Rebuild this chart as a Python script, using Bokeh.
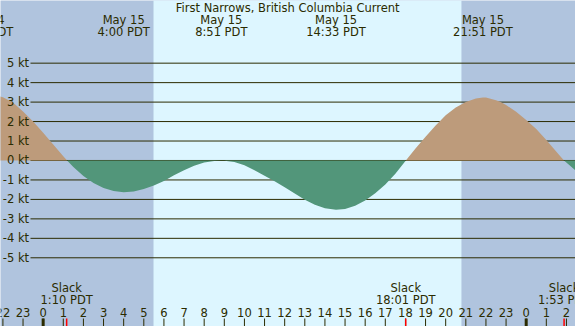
from bokeh.plotting import figure
from bokeh.models import Range1d
from bokeh.embed import file_html
from bokeh.resources import INLINE
from bokeh.core.properties import value

# ---- data (hours relative to May 15 00:00 PDT, current in knots) ----
hours = [-3.0, -2.5, -2.0, -1.5, -1.0, -0.5, 0.0, 0.5, 1.0, 1.19,
         1.5, 2.0, 2.5, 3.0, 3.5, 4.0, 4.5, 5.0, 5.5, 6.0, 6.5, 7.0, 7.5,
         8.0, 8.5, 8.85, 9.0, 9.5, 10.0, 10.5, 11.0, 11.5, 12.0, 12.5, 13.0,
         13.5, 14.0, 14.55, 15.0, 15.5, 16.0, 16.5, 17.0, 17.5, 18.02,
         18.5, 19.0, 19.5, 20.0, 20.5, 21.0, 21.5, 21.85, 22.0, 22.5, 22.73,
         23.0, 23.5, 24.0, 24.5, 25.0, 25.5, 25.88, 26.5]
knots = [3.40, 3.36, 3.25, 2.98, 2.52, 2.00, 1.43, 0.82, 0.22, 0.0,
         -0.33, -0.80, -1.16, -1.42, -1.57, -1.63, -1.59, -1.47, -1.29, -1.05,
         -0.76, -0.50, -0.27, -0.11, -0.03, -0.01, -0.01, -0.08, -0.24, -0.50,
         -0.78, -1.07, -1.38, -1.70, -2.02, -2.28, -2.45, -2.53, -2.49, -2.33,
         -2.05, -1.68, -1.23, -0.68, 0.0, 0.62, 1.22, 1.80, 2.33, 2.72, 3.01,
         3.18, 3.24, 3.24, 3.10, 3.0, 2.85, 2.50, 2.08, 1.62, 1.05, 0.45, 0.0,
         -0.55]

sunrise = [5.483]
sunset = [20.783]

levels = [5, 4, 3, 2, 1, 0, -1, -2, -3, -4, -5]
level_labels = [f"{k} kt" for k in levels]

top_hours = [-2.967, 4.0, 8.85, 14.55, 21.85]
top_dates = ["May 14", "May 15", "May 15", "May 15", "May 15"]
top_times = ["21:02 PDT", "4:00 PDT", "8:51 PDT", "14:33 PDT", "21:51 PDT"]

slack_hours = [1.167, 18.017, 25.883]
slack_times = ["1:10 PDT", "18:01 PDT", "1:53 PDT"]

tick_hours = list(range(-2, 27))
tick_labels = [str(h % 24) for h in tick_hours]
midnights = [0, 24]

title_text = "First Narrows, British Columbia Current"

# ---- styling ----
NIGHT = "#B0C4DE"
DAY = "#DDF6FF"
FLOOD = "#BD9B7B"
EBB = "#52967A"
FG = "#2B2B00"
FONT = value("DejaVu Sans")
FS = "11.5px"

X0, X1 = -2.12, 26.45
Y0, Y1 = -8.53, 8.22

p = figure(width=575, height=326, x_range=Range1d(X0, X1), y_range=Range1d(Y0, Y1),
           output_backend="svg", toolbar_location=None,
           min_border=0, min_border_left=0, min_border_right=0,
           min_border_top=0, min_border_bottom=0)
p.xaxis.visible = False
p.yaxis.visible = False
p.grid.visible = False
p.outline_line_color = None
p.background_fill_color = NIGHT
p.border_fill_color = NIGHT

# daylight band
p.quad(left=sunrise, right=sunset, bottom=Y0 - 1, top=Y1 + 1,
       fill_color=DAY, line_color=None)

# level lines
p.segment(x0=[-0.63] * len(levels), x1=[X1 + 1] * len(levels), y0=levels, y1=levels,
          line_color=FG, line_width=1)

# current fills
pos = [max(v, 0.0) for v in knots]
neg = [min(v, 0.0) for v in knots]
p.varea(x=hours, y1=[0.0] * len(hours), y2=pos, fill_color=FLOOD)
p.varea(x=hours, y1=neg, y2=[0.0] * len(hours), fill_color=EBB)

# level labels
p.text(x=[-0.70] * len(levels), y=levels, text=level_labels, text_align="right",
       text_baseline="middle", text_color=FG, text_font=FONT, text_font_size=FS)

# title and top event labels
p.text(x=[12.15], y=[7.85], text=[title_text], text_align="center",
       text_baseline="middle", text_color=FG, text_font=FONT, text_font_size=FS)
p.text(x=top_hours, y=[7.22] * len(top_hours), text=top_dates, text_align="center",
       text_baseline="middle", text_color=FG, text_font=FONT, text_font_size=FS)
p.text(x=top_hours, y=[6.59] * len(top_hours), text=top_times, text_align="center",
       text_baseline="middle", text_color=FG, text_font=FONT, text_font_size=FS)

# slack labels
p.text(x=slack_hours, y=[-6.54] * len(slack_hours), text=["Slack"] * len(slack_hours),
       text_align="center", text_baseline="middle", text_color=FG,
       text_font=FONT, text_font_size=FS)
p.text(x=slack_hours, y=[-7.16] * len(slack_hours), text=slack_times,
       text_align="center", text_baseline="middle", text_color=FG,
       text_font=FONT, text_font_size=FS)

# hour labels and ticks
p.text(x=tick_hours, y=[-7.79] * len(tick_hours), text=tick_labels,
       text_align="center", text_baseline="middle", text_color=FG,
       text_font=FONT, text_font_size=FS)
p.segment(x0=tick_hours, x1=tick_hours, y0=[-8.12] * len(tick_hours),
          y1=[Y0 - 1] * len(tick_hours), line_color=FG, line_width=1)
p.segment(x0=midnights, x1=midnights, y0=[-8.12] * 2, y1=[Y0 - 1] * 2,
          line_color=FG, line_width=3)
p.segment(x0=slack_hours, x1=slack_hours, y0=[-8.12] * len(slack_hours),
          y1=[Y0 - 1] * len(slack_hours), line_color="red", line_width=1.5)

open("out.html", "w").write(file_html(p, INLINE))
